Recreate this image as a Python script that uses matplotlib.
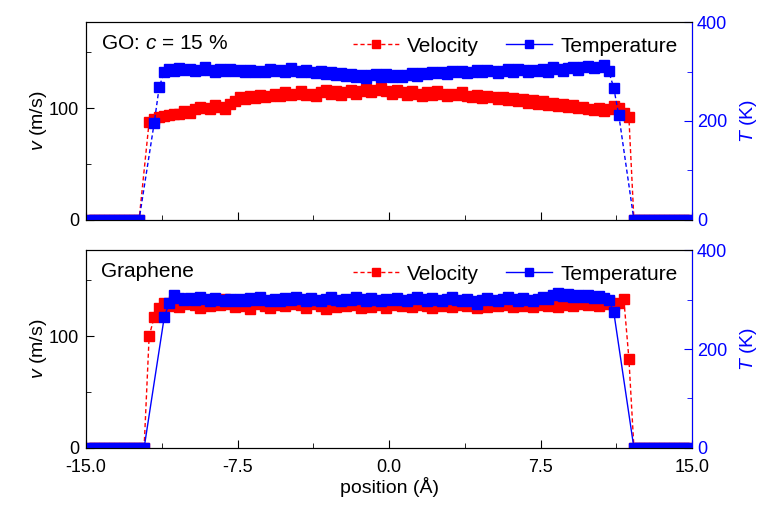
import numpy as np
import matplotlib
matplotlib.use("Agg")
import matplotlib.pyplot as plt
from matplotlib.lines import Line2D
from matplotlib.ticker import MultipleLocator

plt.rcParams['font.family'] = ['Liberation Sans', 'DejaVu Sans']
plt.rcParams['mathtext.fontset'] = 'custom'
plt.rcParams['mathtext.it'] = 'Liberation Sans:italic'
plt.rcParams['mathtext.rm'] = 'Liberation Sans'

nan = np.nan

# bin centres, 0.25 A wide
position = np.arange(-14.875, 15.0, 0.25)

# GO, c = 15 %  (nan = empty bin, line just bridges it)
v_go = [
    0, 0, 0, 0, 0, 0, 0, 0, 0, 0,
    0, nan, 88, 90, 92, 93, 94, 95, 95, 97,
    96, 99, 101, 100, 99, 103, 101, 99, 104, 106,
    110, 108, 111, 109, 112, 110, 111, 113, 111, 114,
    112, 113, 115, 112, 113, 111, 114, 116, 113, 115,
    112, 114, 116, 113, 115, 117, 114, 116, 118, 115,
    113, 116, 114, 112, 115, 113, 111, 114, 112, 115,
    113, 111, 113, 112, 114, 111, 110, 112, 109, 111,
    110, 108, 110, 107, 109, 106, 108, 105, 107, 104,
    106, 103, 105, 102, 104, 101, 103, 100, 101, 99,
    98, 100, 97, 99, 102, 100, 96, 92, 0, 0,
    0, 0, 0, 0, 0, 0, 0, 0, 0, 0,
]
T_go = [
    0, 0, 0, 0, 0, 0, 0, 0, 0, 0,
    0, nan, nan, 196, 269, 299, 305, 302, 308, 303,
    306, 301, 304, 309, 303, 300, 305, 302, 306, 301,
    303, 299, 304, 300, 302, 298, 305, 301, 303, 299,
    308, 302, 299, 304, 300, 297, 301, 295, 298, 293,
    296, 291, 294, 288, 293, 287, 292, 295, 289, 294,
    288, 293, 289, 292, 296, 291, 297, 294, 299, 296,
    300, 295, 302, 298, 301, 296, 299, 303, 300, 304,
    301, 296, 302, 305, 299, 306, 303, 298, 304, 301,
    305, 300, 309, 306, 301, 307, 310, 304, 309, 312,
    307, 310, 313, 301, 267, 212, nan, nan, 0, 0,
    0, 0, 0, 0, 0, 0, 0, 0, 0, 0,
]

# Graphene
v_gr = [
    0, 0, 0, 0, 0, 0, 0, 0, 0, 0,
    0, 0, 100, 117, 125, 130, 127, 131, 126, 129,
    132, 128, 125, 130, 127, 131, 128, 133, 129, 126,
    130, 127, 124, 129, 131, 127, 125, 128, 130, 127,
    129, 132, 128, 125, 129, 131, 127, 124, 128, 126,
    129, 127, 131, 128, 125, 129, 126, 130, 128, 125,
    128, 131, 127, 129, 126, 128, 131, 127, 125, 129,
    127, 130, 126, 128, 131, 127, 129, 125, 128, 126,
    129, 127, 131, 128, 126, 129, 127, 130, 126, 128,
    131, 127, 129, 126, 128, 130, 127, 129, 131, 128,
    130, 127, 129, 131, 128, 130, 133, 80, 0, 0,
    0, 0, 0, 0, 0, 0, 0, 0, 0, 0,
]
T_gr = [
    0, 0, 0, 0, 0, 0, 0, 0, 0, 0,
    0, 0, nan, nan, nan, 265, 293, 309, 303, 300,
    304, 299, 306, 301, 297, 303, 300, 296, 302, 298,
    301, 296, 303, 299, 305, 300, 297, 302, 298, 304,
    300, 306, 301, 297, 303, 299, 296, 301, 305, 300,
    297, 302, 299, 305, 301, 298, 303, 300, 296, 302,
    299, 304, 300, 297, 302, 306, 301, 298, 303, 299,
    296, 301, 305, 300, 297, 302, 298, 291, 299, 303,
    300, 297, 302, 306, 301, 298, 304, 300, 297, 302,
    306, 301, 309, 314, 308, 312, 306, 310, 305, 309,
    304, 308, 303, 299, 275, nan, nan, nan, 0, 0,
    0, 0, 0, 0, 0, 0, 0, 0, 0, 0,
]

panels = [
    ("GO: $c$ = 15 %", v_go, T_go, (0, (3, 2))),
    ("Graphene", v_gr, T_gr, '-'),
]

RED = '#ff0000'
BLUE = '#0000ff'
MS = 6.5

fig = plt.figure(figsize=(7.66, 5.05), dpi=100)
boxes = [[0.1123, 0.5644, 0.7911, 0.392], [0.1123, 0.1129, 0.7911, 0.392]]


def drop_gaps(y):
    y = np.array(y, dtype=float)
    keep = ~np.isnan(y)
    return position[keep], y[keep]


for i, (label, v, T, tstyle) in enumerate(panels):
    ax = fig.add_axes(boxes[i])
    ax2 = ax.twinx()

    xv, yv = drop_gaps(v)
    ax.plot(xv, yv, color=RED, ls=(0, (3, 2)), lw=1, marker='s', ms=MS,
            mec=RED, mfc=RED)
    xt, yt = drop_gaps(T)
    ax2.plot(xt, yt, color=BLUE, ls=tstyle, lw=1, marker='s', ms=MS,
             mec=BLUE, mfc=BLUE)

    ax.set_xlim(-15, 15)
    ax.set_ylim(0, 177)
    ax2.set_ylim(0, 400)

    ax.xaxis.set_major_locator(MultipleLocator(7.5))
    ax.xaxis.set_minor_locator(MultipleLocator(3.75))
    ax.yaxis.set_major_locator(MultipleLocator(100))
    ax.yaxis.set_minor_locator(MultipleLocator(50))
    ax2.yaxis.set_major_locator(MultipleLocator(200))
    ax2.yaxis.set_minor_locator(MultipleLocator(100))

    ax.tick_params(which='both', direction='in', labelsize=13, top=False, right=False)
    ax.tick_params(which='major', length=6)
    ax.tick_params(which='minor', length=3.5)
    ax.tick_params(axis='x', pad=8)
    ax.tick_params(axis='y', pad=5)
    ax2.tick_params(which='both', direction='in', labelsize=13, colors=BLUE)
    ax2.tick_params(which='major', length=6)
    ax2.tick_params(which='minor', length=3.5)
    ax2.spines['right'].set_color(BLUE)

    ax.set_ylabel("$v$ (m/s)", fontsize=14, labelpad=0)
    ax2.set_ylabel("$T$ (K)", fontsize=14, color=BLUE, labelpad=8)

    if i == 0:
        ax.set_xticklabels([])
    else:
        ax.set_xticks([-15, -7.5, 0, 7.5, 15])
        ax.set_xticklabels(["-15.0", "-7.5", "0.0", "7.5", "15.0"])
        ax.set_xlabel("position (\u00c5)", fontsize=14, labelpad=1)

    ax.text(0.025, 0.89, label, transform=ax.transAxes, fontsize=15, va='center', ha='left')

    handles = [
        Line2D([], [], color=RED, ls=(0, (3, 2)), lw=1, marker='s', ms=MS - 1),
        Line2D([], [], color=BLUE, ls='-', lw=1, marker='s', ms=MS - 1),
    ]
    ax2.legend(handles, ["Velocity", "Temperature"], loc='upper right', ncol=2,
               frameon=False, fontsize=15, handlelength=2.2, handletextpad=0.4,
               columnspacing=1.3, borderaxespad=0.3)

fig.savefig("out.png", dpi=100)
